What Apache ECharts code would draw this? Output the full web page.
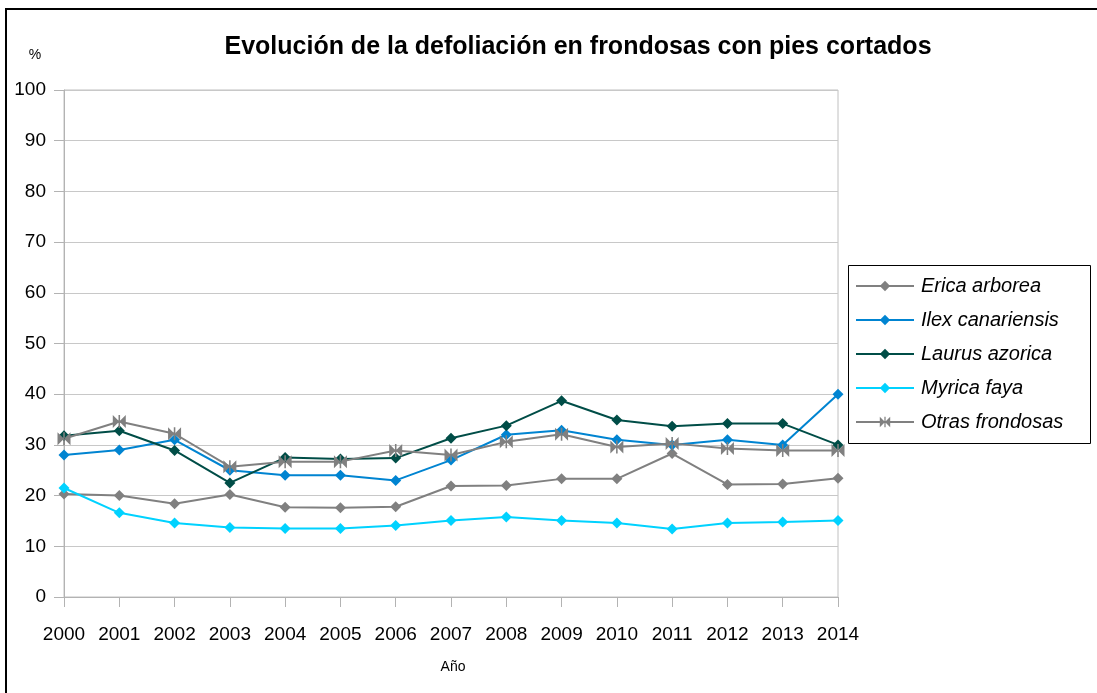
<!DOCTYPE html>
<html>
<head>
<meta charset="utf-8">
<script src="https://cdn.jsdelivr.net/npm/echarts@6/dist/echarts.min.js"></script>
<style>
html,body{margin:0;padding:0;background:#fff;}
#chart{width:1097px;height:693px;}
</style>
</head>
<body>
<div id="chart"></div>
<script>
var years = ['2000','2001','2002','2003','2004','2005','2006','2007','2008','2009','2010','2011','2012','2013','2014'];
var ericaArborea   = [20.3, 20.0, 18.4, 20.2, 17.7, 17.6, 17.8, 21.9, 22.0, 23.3, 23.3, 28.3, 22.2, 22.3, 23.4];
var ilexCanariensis = [28.0, 29.0, 31.0, 25.0, 24.0, 24.0, 23.0, 27.0, 32.0, 32.9, 31.0, 30.0, 31.0, 30.0, 40.0];
var laurusAzorica  = [31.8, 32.8, 28.9, 22.5, 27.5, 27.2, 27.4, 31.3, 33.8, 38.7, 34.9, 33.7, 34.2, 34.2, 30.0];
var myricaFaya     = [21.5, 16.6, 14.6, 13.7, 13.5, 13.5, 14.1, 15.1, 15.8, 15.1, 14.6, 13.4, 14.6, 14.8, 15.1];
var otrasFrondosas = [31.2, 34.6, 32.2, 25.7, 26.7, 26.7, 28.9, 28.0, 30.6, 32.1, 29.6, 30.3, 29.3, 28.9, 28.9];
var seriesNames = ['Erica arborea','Ilex canariensis','Laurus azorica','Myrica faya','Otras frondosas'];
var seriesColors = ['#808080','#0084d1','#004d47','#00d2ff','#808080'];

var FONT = '"Liberation Sans", Arial, sans-serif';
var bowtie = 'path://M0,0 L5,5 L0,10 Z M10,0 L5,5 L10,10 Z M4.4,0 L5.6,0 L5.6,10 L4.4,10 Z';
var dataSets = [ericaArborea, ilexCanariensis, laurusAzorica, myricaFaya, otrasFrondosas];

var series = dataSets.map(function(d, i){
  return {
    name: seriesNames[i],
    type: 'line',
    data: d,
    symbol: i === 4 ? bowtie : 'diamond',
    symbolSize: i === 4 ? [13, 13] : [11, 11],
    showAllSymbol: true,
    lineStyle: {color: seriesColors[i], width: 2},
    itemStyle: {color: seriesColors[i]},
    emphasis: {disabled: true},
    animation: false
  };
});

var chart = echarts.init(document.getElementById('chart'), null, {renderer: 'canvas'});
chart.setOption({
  backgroundColor: '#fff',
  animation: false,
  textStyle: {fontFamily: FONT},
  grid: {left: 64, right: 259, top: 90, bottom: 96, containLabel: false, show: true, borderColor: '#c0c0c0', borderWidth: 1, backgroundColor: 'transparent'},
  xAxis: {
    type: 'category',
    data: years,
    boundaryGap: false,
    axisLine: {lineStyle: {color: '#b3b3b3', width: 1}},
    axisTick: {show: true, length: 10, lineStyle: {color: '#b3b3b3'}, alignWithLabel: true},
    axisLabel: {color: '#000', fontSize: 19, fontFamily: FONT, margin: 28},
    splitLine: {show: false}
  },
  yAxis: {
    type: 'value',
    min: 0, max: 100, interval: 10,
    axisLine: {show: true, lineStyle: {color: '#b3b3b3', width: 1}},
    axisTick: {show: true, length: 10, lineStyle: {color: '#b3b3b3'}},
    axisLabel: {color: '#000', fontSize: 19, fontFamily: FONT, margin: 18},
    splitLine: {show: true, lineStyle: {color: '#c8c8c8', width: 1}}
  },
  legend: {
    orient: 'vertical',
    left: 855, top: 275,
    padding: 0,
    itemWidth: 58, itemHeight: 13,
    itemGap: 12,
    textStyle: {color: '#000', fontSize: 20, fontStyle: 'italic', fontFamily: FONT, lineHeight: 22, padding: [0,0,0,2]},
    data: seriesNames
  },
  graphic: [
    {type: 'rect', shape: {x: 6, y: 9, width: 1200, height: 800}, style: {fill: 'none', stroke: '#000', lineWidth: 2}, silent: true, z: 100},
    {type: 'rect', shape: {x: 848.5, y: 265.5, width: 242, height: 178}, style: {fill: 'none', stroke: '#000', lineWidth: 1}, silent: true, z: 100},
    {type: 'text', x: 578, y: 47, style: {text: 'Evolución de la defoliación en frondosas con pies cortados', fill: '#000', font: 'bold 25px ' + FONT, textAlign: 'center', textVerticalAlign: 'middle'}, silent: true},
    {type: 'text', x: 35, y: 55, style: {text: '%', fill: '#000', font: '14px ' + FONT, textAlign: 'center', textVerticalAlign: 'middle'}, silent: true},
    {type: 'text', x: 453, y: 667, style: {text: 'Año', fill: '#000', font: '14px ' + FONT, textAlign: 'center', textVerticalAlign: 'middle'}, silent: true}
  ],
  series: series
});
</script>
</body>
</html>
